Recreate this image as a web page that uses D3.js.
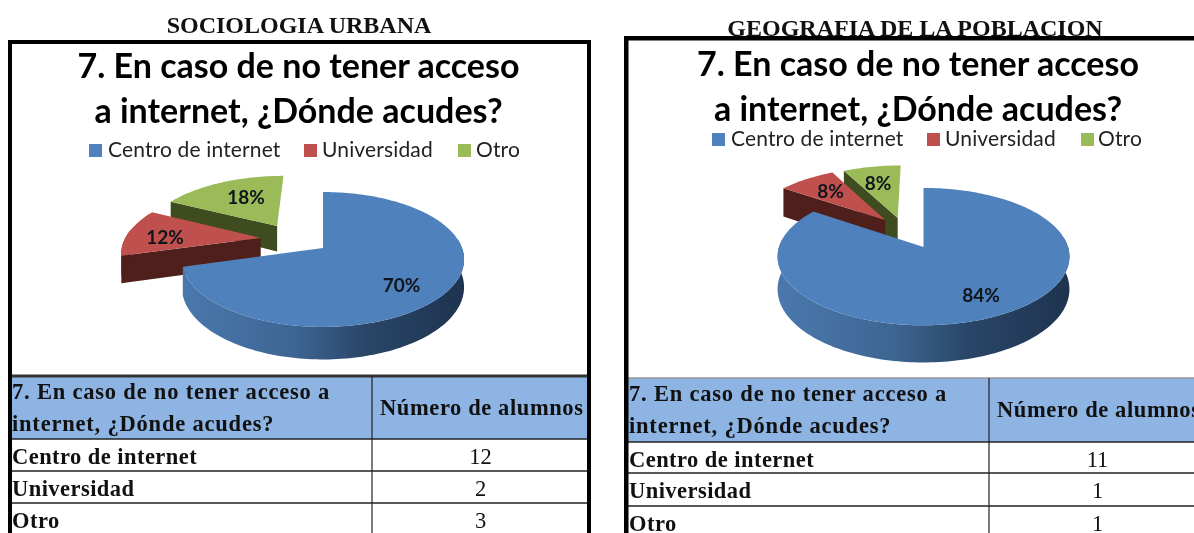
<!DOCTYPE html>
<html><head><meta charset="utf-8">
<script src="https://cdn.jsdelivr.net/npm/d3@7"></script>
<style>html,body{margin:0;padding:0;background:#fff;overflow:hidden}svg{display:block}#c>g{filter:blur(.45px)}</style>
</head><body><svg id="c" width="1194" height="533"></svg>
<script>
// ---- data
const categories = ["Centro de internet", "Universidad", "Otro"];
const sociologiaValues = [12, 2, 3];
const geografiaValues = [11, 1, 1];
const sociologiaPercent = ["70%", "12%", "18%"];
const geografiaPercent = ["84%", "8%", "8%"];
const chartTitleLines = ["7. En caso de no tener acceso", "a internet, ¿Dónde acudes?"];
const tableHeadLines = ["7. En caso de no tener acceso a", "internet, ¿Dónde acudes?"];
const tableValueHead = "Número de alumnos";
const topColors = ["#4f81bd", "#c0504d", "#9bbb59"];
const wallColors = [null, "#4f1f1c", "#3f4c20"];

// ---- layout (one entry per panel)
const panels = [
  { id:"a", heading:"SOCIOLOGIA URBANA", headX:299, headY:33,
    values:sociologiaValues, percent:sociologiaPercent,
    cx:323, cy:248, B:139, A:65.5, k:.17, depth:27,
    explode:[[0,0],[-.46,.157],[-.35,.356]],
    nudge:[[-5,7],[-3,2],[9,2.6]],
    titleX:298.5, titleY:[78,123], legendY:[144,157], legendSw:[89,304,458], legendTx:[108,322,476],
    frame:{x:8,y:40,right:591,bottom:560,w:4}, tableTop:376, rows:[439,471,503,535], sep:372, textX:12, colRight:591, chartLine:"#333", chartLineW:3 },
  { id:"b", heading:"GEOGRAFIA DE LA POBLACION", headX:915, headY:36,
    values:geografiaValues, percent:geografiaPercent,
    cx:923.5, cy:247, B:144.5, A:67.3, k:.14, depth:32,
    explode:[[0,0],[-.281,.425],[-.19,.459]],
    nudge:[[6,2],[2,0],[-1,2]],
    titleX:918, titleY:[76,121], legendY:[133,146], legendSw:[712,927,1081], legendTx:[731,945,1098],
    frame:{x:624,y:36,right:1200,bottom:560,w:4.5}, tableTop:378, rows:[442,473,506,538], sep:989, textX:629, colRight:1194, chartLine:"#999", chartLineW:1.5 }
];

const svg = d3.select("#c");
const defs = svg.append("defs");
const line = d3.line();
const serif = "'Liberation Serif','Times New Roman',serif";
const sans = "Lato,'Open Sans',sans-serif";

panels.forEach(p => {
  const g = svg.append("g");
  const project = (u, v) => {
    const w = 1 + p.k * v;
    return [p.cx + p.B * u / w, p.cy - p.A * v / w];
  };
  const lower = (u, v) => {
    const [x, y] = project(u, v);
    return [x, y + p.depth / (1 + p.k * v)];
  };
  // heading
  g.append("text").attr("x", p.headX).attr("y", p.headY).attr("text-anchor", "middle")
    .attr("font-family", serif).attr("font-weight", 700).attr("font-size", 24).attr("fill", "#111")
    .text(p.heading);

  // chart title
  chartTitleLines.forEach((t, i) => g.append("text").attr("x", p.titleX).attr("y", p.titleY[i])
    .attr("text-anchor", "middle").attr("font-family", sans).attr("font-weight", 700)
    .attr("font-size", 34).attr("fill", "#000").text(t));

  // legend
  categories.forEach((c, i) => {
    g.append("rect").attr("x", p.legendSw[i]).attr("y", p.legendY[0]).attr("width", 13).attr("height", 13).attr("fill", topColors[i]);
    g.append("text").attr("x", p.legendTx[i]).attr("y", p.legendY[1]).attr("font-family", sans)
      .attr("font-size", 21).attr("letter-spacing", .15).attr("fill", "#222").text(c);
  });

  // gradient for the large slice's wall
  const grad = defs.append("linearGradient").attr("id", "wall" + p.id).attr("gradientUnits", "userSpaceOnUse")
    .attr("x1", p.cx - p.B).attr("x2", p.cx + p.B).attr("y1", 0).attr("y2", 0);
  [[0,"#4a78ad"],[.4,"#3d6592"],[.65,"#2a4668"],[1,"#1e3450"]].forEach(s =>
    grad.append("stop").attr("offset", s[0]).attr("stop-color", s[1]));

  // slices, painted small ones first
  const arcs = d3.pie().sort(null).value(d => d)(p.values);
  [2, 1, 0].forEach(i => {
    const a = arcs[i], [ex, ey] = p.explode[i];
    const n = Math.max(8, Math.round((a.endAngle - a.startAngle) * 40));
    const angles = d3.range(n + 1).map(j => a.startAngle + (a.endAngle - a.startAngle) * j / n);
    const toDisc = t => [Math.sin(t) + ex, Math.cos(t) + ey];
    const rim = angles.map(toDisc);
    const frontRim = angles.filter(t => Math.cos(t) < .15).map(toDisc);
    const wall = i === 0 ? "url(#wall" + p.id + ")" : wallColors[i];
    const apex = [ex, ey];
    // radial wall on the slice's starting side
    g.append("path").attr("d", line([project(...apex), project(...rim[0]), lower(...rim[0]), lower(...apex)]) + "Z")
      .attr("fill", wall);
    // outer rim wall, only where it faces the viewer
    if (frontRim.length > 1) {
      g.append("path").attr("d", line([...frontRim.map(q => project(...q)), ...frontRim.slice().reverse().map(q => lower(...q))]) + "Z")
        .attr("fill", wall);
    }
    // top face
    g.append("path").attr("d", line([apex, ...rim].map(q => project(...q))) + "Z").attr("fill", topColors[i]);
  });

  // percent labels
  arcs.forEach((a, i) => {
    const m = (a.startAngle + a.endAngle) / 2, [ex, ey] = p.explode[i];
    const [x, y] = project(.7 * Math.sin(m) + ex, .7 * Math.cos(m) + ey);
    g.append("text").attr("x", x + p.nudge[i][0]).attr("y", y + p.nudge[i][1])
      .attr("text-anchor", "middle").attr("dominant-baseline", "central")
      .attr("font-family", sans).attr("font-weight", 700).attr("font-size", 19).attr("fill", "#10151c")
      .text(p.percent[i]);
  });

  // table
  const f = p.frame, left = f.x + f.w / 2, hh = p.rows[0] - p.tableTop;
  g.append("rect").attr("x", left).attr("y", p.tableTop).attr("width", p.colRight - left).attr("height", hh).attr("fill", "#8db4e2");
  g.append("line").attr("x1", left).attr("x2", p.colRight).attr("y1", p.tableTop).attr("y2", p.tableTop).attr("stroke", p.chartLine).attr("stroke-width", p.chartLineW);
  p.rows.slice(0, 3).forEach(y => g.append("line").attr("x1", left).attr("x2", p.colRight).attr("y1", y).attr("y2", y).attr("stroke", "#222").attr("stroke-width", 1.4));
  g.append("line").attr("x1", p.sep).attr("x2", p.sep).attr("y1", p.tableTop).attr("y2", 533).attr("stroke", "#222").attr("stroke-width", 1.2);
  const cellText = (sel, x, y, bold, anchor) => sel.attr("x", x).attr("y", y).attr("text-anchor", anchor)
    .attr("font-family", serif).attr("font-weight", bold ? 700 : 400).attr("font-size", 22.5).attr("fill", "#111");
  tableHeadLines.forEach((t, i) => cellText(g.append("text"), p.textX, p.tableTop + 23 + i * 32, true, "start").attr("letter-spacing", .8).text(t));
  cellText(g.append("text"), p.sep + 8, p.tableTop + 39, true, "start").attr("letter-spacing", .6).text(tableValueHead);
  categories.forEach((c, i) => {
    const y = p.rows[i] + 25;
    cellText(g.append("text"), p.textX, y, true, "start").attr("letter-spacing", .45).text(c);
    cellText(g.append("text"), p.sep + 108.5, y, false, "middle").text(p.values[i]);
  });

  // frame
  g.append("rect").attr("x", f.x + f.w/2).attr("y", f.y + f.w/2).attr("width", f.right - f.x - f.w).attr("height", f.bottom - f.y)
    .attr("fill", "none").attr("stroke", "#000").attr("stroke-width", f.w);
});
</script></body></html>
